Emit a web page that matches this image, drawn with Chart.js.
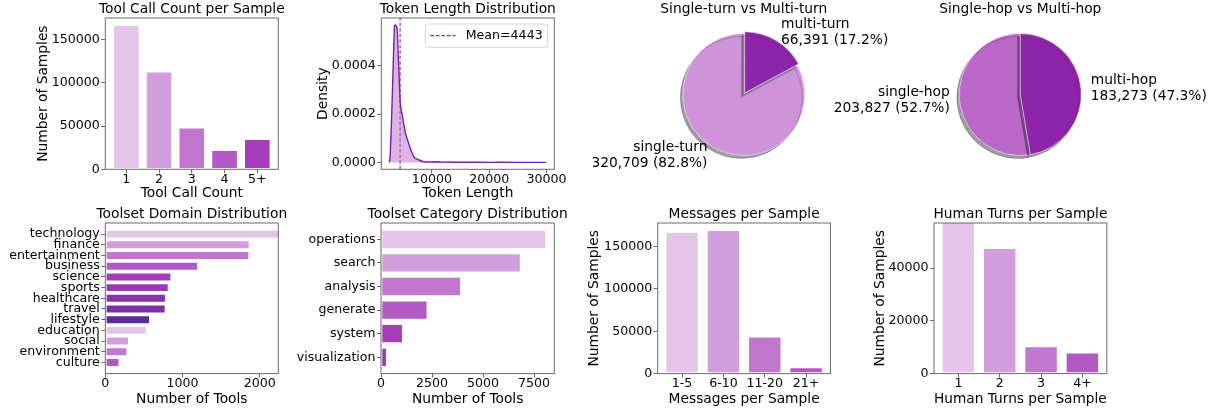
<!DOCTYPE html>
<html>
<head>
<meta charset="utf-8">
<title>Dataset statistics</title>
<script src="https://cdn.jsdelivr.net/npm/chart.js@4.4.1/dist/chart.umd.min.js"></script>
<style>
  html, body { margin: 0; padding: 0; background: #fff; }
  body { position: relative; width: 1222px; height: 414px; overflow: hidden; }
  canvas { position: absolute; }
</style>
</head>
<body>
<canvas id="toolCalls"></canvas>
<canvas id="tokenLength"></canvas>
<canvas id="turns"></canvas>
<canvas id="hops"></canvas>
<canvas id="domains"></canvas>
<canvas id="categories"></canvas>
<canvas id="messages"></canvas>
<canvas id="humanTurns"></canvas>
<script>
// ---- data ----
const toolCallLabels = ['1', '2', '3', '4', '5+'];
const toolCallCounts = [166600, 112700, 48000, 22100, 34900];

const tokenLengths = [2536, 2700, 2900, 3100, 3300, 3460, 3600, 3800, 3950, 4150, 4300, 4450, 4650, 4850,
  5100, 5350, 5650, 5900, 6200, 6500, 6950, 7650, 8500, 9000, 10000, 11000, 12000, 13000, 14000, 16000,
  18000, 20000, 22000, 25000, 28000, 30000];
const tokenDensity = [0, 0.00002, 0.00014, 0.00029, 0.00045, 0.000567, 0.00057, 0.000565, 0.000555, 0.00043,
  0.00034, 0.00025, 0.000215, 0.000193, 0.000158, 0.000122, 0.0001, 0.000082, 0.00006, 0.000041, 0.000019,
  0.000011, 0.000003, 0.000002, 0.0000015, 0.0000025, 0.0000012, 0.0000018, 0.0000008, 0.0000006,
  0.0000009, 0.0000004, 0.0000005, 0.0000003, 0.0000002, 0.0000001];
const tokenMean = 4443;

const turnLabels = ['single-turn', 'multi-turn'];
const turnCounts = [320709, 66391];

const hopLabels = ['single-hop', 'multi-hop'];
const hopCounts = [203827, 183273];

const domainLabels = ['technology', 'finance', 'entertainment', 'business', 'science', 'sports', 'healthcare',
  'travel', 'lifestyle', 'education', 'social', 'environment', 'culture'];
const domainCounts = [12427, 1866, 1862, 1200, 853, 818, 784, 779, 576, 533, 304, 282, 182];

const categoryLabels = ['operations', 'search', 'analysis', 'generate', 'system', 'visualization'];
const categoryCounts = [8090, 6842, 3914, 2274, 1066, 280];

const messageLabels = ['1-5', '6-10', '11-20', '21+'];
const messageCounts = [166800, 169300, 43600, 7400];

const humanTurnLabels = ['1', '2', '3', '4+'];
const humanTurnCounts = [320709, 47600, 10300, 7900];

// ---- styling ----
const FONT = 'DejaVu Sans';
const TICK_FONT = {family: FONT, size: 12.6, lineHeight: 1};
const LABEL_SIZE = 13.8;
const LABEL_LH = LABEL_SIZE * 1.2;
const LABEL_FONT = {family: FONT, size: LABEL_SIZE, weight: 'normal'};
const SPINE = '#6b6b6b';
const purples = ['#e1bee7', '#ce93d8', '#ba68c8', '#ab47bc', '#9c27b0', '#8e24aa', '#7b1fa2', '#6a1b9a', '#4a148c'];
const withAlpha = (hex, a) => hex + Math.round(a * 255).toString(16).padStart(2, '0');

Chart.defaults.font.family = FONT;
Chart.defaults.color = '#000';
Chart.defaults.animation = false;
Chart.defaults.events = [];
Chart.defaults.plugins.legend.display = false;
Chart.defaults.plugins.tooltip.enabled = false;

const ROW1 = {t: 18, b: 169.3};
const ROW2 = {t: 223, b: 373.6};

function place(id, x, y, w, h) {
  const c = document.getElementById(id);
  c.width = w; c.height = h;
  c.style.left = x + 'px'; c.style.top = y + 'px';
  c.style.width = w + 'px'; c.style.height = h + 'px';
  return c;
}

// axes box like matplotlib spines
const frame = {
  id: 'frame',
  afterDatasetsDraw(chart) {
    const {ctx, chartArea: a} = chart;
    ctx.save();
    ctx.strokeStyle = SPINE;
    ctx.lineWidth = 1;
    ctx.strokeRect(a.left, a.top, a.width, a.height);
    ctx.restore();
  }
};

// axes title centred over the plot area, allowed to be wider than it
const panelTitle = {
  id: 'panelTitle',
  afterDraw(chart, args, opts) {
    const {ctx, chartArea: a} = chart;
    ctx.save();
    ctx.font = LABEL_SIZE + 'px "' + FONT + '"';
    ctx.fillStyle = '#000';
    ctx.textAlign = 'center';
    ctx.textBaseline = 'middle';
    ctx.fillText(opts.text, (a.left + a.right) / 2, a.top - 8.7);
    ctx.restore();
  }
};

function indexAxis(labels, pos, lo, hi, reverse) {
  return {
    type: 'linear', position: pos, min: lo, max: hi, reverse: !!reverse, offset: false,
    grid: {offset: false, drawOnChartArea: false, tickLength: 4, tickColor: SPINE},
    border: {display: false},
    afterBuildTicks: s => {
      s.ticks = labels.map((l, i) => ({value: i}));
    },
    ticks: {
      autoSkip: false, maxRotation: 0, font: TICK_FONT,
      padding: pos === 'bottom' ? 0 : 1.5, callback: v => labels[v]
    }
  };
}

// ticks every `step` inside [lo, hi], like matplotlib's locator
function valueAxis(pos, lo, hi, step, fmt) {
  return {
    type: 'linear', position: pos, min: lo, max: hi,
    grid: {drawOnChartArea: false, tickLength: 4, tickColor: SPINE},
    border: {display: false},
    afterBuildTicks: s => {
      const ticks = [];
      for (let k = Math.ceil(lo / step - 1e-9); k * step <= hi + 1e-12; k++) {
        ticks.push({value: +(k * step).toPrecision(12)});
      }
      s.ticks = ticks;
    },
    ticks: {
      autoSkip: false, maxRotation: 0, font: TICK_FONT,
      padding: pos === 'bottom' ? 0 : 1.5, callback: fmt || (v => String(v))
    }
  };
}

function barPanel(o) {
  const p = o.plot;
  const cx = Math.round(o.canvasLeft);
  const cy = Math.round(p.t - 19);
  const cr = Math.round(p.r + 22);
  const cb = Math.round(p.b + 36);
  place(o.id, cx, cy, cr - cx, cb - cy);
  const n = o.labels.length;
  const margin = 0.05 * (n - 0.2);
  const idx = indexAxis(o.labels, o.horizontal ? 'left' : 'bottom', -0.4 - margin, n - 0.6 + margin, o.horizontal);
  const val = valueAxis(o.horizontal ? 'bottom' : 'left', 0, o.limit, o.step);
  const xAxis = o.horizontal ? val : idx;
  const yAxis = o.horizontal ? idx : val;
  yAxis.afterFit = s => { s.width = p.l - cx; };
  xAxis.afterFit = s => { s.height = cb - p.b; };
  xAxis.title = {display: true, text: o.xTitle, font: LABEL_FONT,
    padding: {top: 0, bottom: cb - p.b - o.xTitleOffset - LABEL_LH / 2}};
  if (o.yTitle) {
    yAxis.title = {display: true, text: o.yTitle, font: LABEL_FONT,
      padding: {top: o.yTitleX - cx - LABEL_LH / 2, bottom: 0}};
  }
  return new Chart(document.getElementById(o.id), {
    type: 'bar',
    data: {
      datasets: [{
        data: o.values.map((v, i) => o.horizontal ? {x: v, y: i} : {x: i, y: v}),
        backgroundColor: o.values.map((v, i) => withAlpha(purples[i % purples.length], 0.9)),
        borderColor: '#ffffff',
        borderWidth: 0.8,
        borderSkipped: false,
        barPercentage: 0.8,
        categoryPercentage: 1
      }]
    },
    options: {
      indexAxis: o.horizontal ? 'y' : 'x',
      responsive: false,
      layout: {padding: {left: 0, top: p.t - cy, bottom: 0, right: cr - p.r}},
      scales: {x: xAxis, y: yAxis},
      plugins: {panelTitle: {text: o.title}}
    },
    plugins: [frame, panelTitle]
  });
}

// legend box drawn inside the axes (upper right), like matplotlib
const meanLegend = {
  id: 'meanLegend',
  afterDatasetsDraw(chart) {
    const ds = chart.data.datasets[1];
    const {ctx, chartArea: a} = chart;
    const fs = 12.6;
    ctx.save();
    ctx.font = fs + 'px "' + FONT + '"';
    const tw = ctx.measureText(ds.label).width;
    const w = fs * 3.6 + tw, h = 23.3;
    const x = a.right - 6.6 - w, y = a.top + 6;
    ctx.beginPath();
    ctx.roundRect(x, y, w, h, 3);
    ctx.fillStyle = 'rgba(255,255,255,0.8)';
    ctx.fill();
    ctx.strokeStyle = '#d4d4d4';
    ctx.lineWidth = 1;
    ctx.stroke();
    ctx.beginPath();
    ctx.setLineDash(ds.borderDash);
    ctx.strokeStyle = ds.borderColor;
    ctx.lineWidth = ds.borderWidth;
    ctx.moveTo(x + fs * 0.4, y + h / 2);
    ctx.lineTo(x + fs * 2.4, y + h / 2);
    ctx.stroke();
    ctx.setLineDash([]);
    ctx.fillStyle = '#000';
    ctx.textBaseline = 'middle';
    ctx.fillText(ds.label, x + fs * 3.2, y + h / 2);
    ctx.restore();
  }
};

function tokenPanel() {
  const p = {l: 381.3, t: ROW1.t, r: 554.3, b: ROW1.b};
  const yTitleX = 323.5;
  const cx = Math.round(yTitleX - LABEL_LH / 2 - 0.5);
  const cy = Math.round(p.t - 19);
  const cr = Math.round(p.r + 22);
  const cb = Math.round(p.b + 36);
  place('tokenLength', cx, cy, cr - cx, cb - cy);
  const span = tokenLengths[tokenLengths.length - 1] - tokenLengths[0];
  const xMin = tokenLengths[0] - 0.05 * span;
  const xMax = tokenLengths[tokenLengths.length - 1] + 0.05 * span;
  const peak = Math.max(...tokenDensity);
  const yMin = -0.05 * peak, yMax = 1.05 * peak;
  const xAxis = valueAxis('bottom', xMin, xMax, 10000);
  const yAxis = valueAxis('left', yMin, yMax, 0.0002, v => v.toFixed(4));
  yAxis.afterFit = s => { s.width = p.l - cx; };
  xAxis.afterFit = s => { s.height = cb - p.b; };
  xAxis.title = {display: true, text: 'Token Length', font: LABEL_FONT,
    padding: {top: 0, bottom: cb - p.b - 24.5 - LABEL_LH / 2}};
  yAxis.title = {display: true, text: 'Density', font: LABEL_FONT,
    padding: {top: yTitleX - cx - LABEL_LH / 2, bottom: 0}};
  return new Chart(document.getElementById('tokenLength'), {
    type: 'line',
    data: {
      datasets: [{
        label: 'density',
        data: tokenLengths.map((x, i) => ({x, y: tokenDensity[i]})),
        borderColor: '#7b1fa2',
        borderWidth: 1.4,
        backgroundColor: 'rgba(186,104,200,0.5)',
        fill: 'origin',
        pointRadius: 0,
        tension: 0
      }, {
        label: 'Mean=' + tokenMean,
        data: [{x: tokenMean, y: yMin}, {x: tokenMean, y: yMax}],
        borderColor: '#8e24aa',
        borderWidth: 1.1,
        borderDash: [3.5, 2],
        pointRadius: 0,
        fill: false
      }]
    },
    options: {
      responsive: false,
      layout: {padding: {left: 0, top: p.t - cy, bottom: 0, right: cr - p.r}},
      scales: {x: xAxis, y: yAxis},
      plugins: {panelTitle: {text: 'Token Length Distribution'}}
    },
    plugins: [frame, meanLegend, panelTitle]
  });
}

// pie shadow + outside labels
const pieDecor = {
  id: 'pieDecor',
  beforeDatasetsDraw(chart) {
    const c = chart.ctx;
    c.save();
    c.shadowColor = 'rgba(45,30,50,0.45)';
    c.shadowOffsetX = -2.5;
    c.shadowOffsetY = 3;
    c.shadowBlur = 0;
  },
  afterDatasetsDraw(chart) {
    const ctx = chart.ctx;
    ctx.restore();
    const ds = chart.data.datasets[0];
    const labels = chart.data.labels;
    const total = ds.data.reduce((a, b) => a + b, 0);
    ctx.save();
    ctx.font = LABEL_SIZE + 'px "' + FONT + '"';
    ctx.fillStyle = '#000';
    ctx.textBaseline = 'middle';
    chart.getDatasetMeta(0).data.forEach((arc, i) => {
      const {x, y, startAngle, endAngle, outerRadius} =
        arc.getProps(['x', 'y', 'startAngle', 'endAngle', 'outerRadius'], true);
      const mid = (startAngle + endAngle) / 2;
      const shift = (ds.offset ? ds.offset[i] : 0) / 4;
      const d = outerRadius * 1.16 + shift;
      const lx = x + Math.cos(mid) * d, ly = y + Math.sin(mid) * d;
      const v = ds.data[i];
      ctx.textAlign = Math.cos(mid) >= 0 ? 'left' : 'right';
      ctx.fillText(labels[i], lx, ly - LABEL_LH / 2);
      ctx.fillText(v.toLocaleString('en-US') + ' (' + (100 * v / total).toFixed(1) + '%)', lx, ly + LABEL_LH / 2);
    });
    ctx.restore();
  }
};

function piePanel(o) {
  const hw = o.halfWidth;
  const x0 = Math.floor(o.cx - hw), w = 2 * hw, h = 200;
  place(o.id, x0, 0, w, h);
  const titleTop = 9.8 - LABEL_LH / 2;
  const areaTop = titleTop + LABEL_LH;
  const padBottom = h - (2 * o.cy - areaTop);
  const padLeft = 2 * (o.cx - x0) - w;
  const total = o.values.reduce((a, b) => a + b, 0);
  return new Chart(document.getElementById(o.id), {
    type: 'pie',
    data: {
      labels: o.labels,
      datasets: [{
        data: o.values,
        backgroundColor: o.colors,
        borderColor: '#ffffff',
        borderWidth: 0.5,
        offset: o.offset,
        radius: o.radius
      }]
    },
    options: {
      responsive: false,
      radius: o.radius,
      rotation: 360 * o.values[1] / total,
      layout: {padding: {left: Math.max(padLeft, 0), right: Math.max(-padLeft, 0), top: 0, bottom: padBottom}},
      plugins: {
        title: {display: true, text: o.title, color: '#000', font: LABEL_FONT, padding: {top: titleTop, bottom: 0}}
      }
    },
    plugins: [pieDecor]
  });
}

barPanel({
  id: 'toolCalls', labels: toolCallLabels, values: toolCallCounts,
  plot: {l: 105.3, t: ROW1.t, r: 278.3, b: ROW1.b},
  canvasLeft: 43.3 - LABEL_LH / 2 - 0.5, yTitleX: 43.3, xTitleOffset: 24.5,
  limit: Math.max(...toolCallCounts) * 1.05, step: 50000,
  title: 'Tool Call Count per Sample', xTitle: 'Tool Call Count', yTitle: 'Number of Samples'
});

tokenPanel();

piePanel({
  id: 'turns', labels: turnLabels, values: turnCounts, colors: ['#ce93d8', '#8e24aa'],
  offset: [0, 7], cx: 743.8, cy: 94.5, radius: 61, halfWidth: 150,
  title: 'Single-turn vs Multi-turn'
});

piePanel({
  id: 'hops', labels: hopLabels, values: hopCounts, colors: ['#ba68c8', '#8e24aa'],
  offset: [0, 0], cx: 1020.3, cy: 94.5, radius: 61, halfWidth: 200,
  title: 'Single-hop vs Multi-hop'
});

barPanel({
  id: 'domains', labels: domainLabels, values: domainCounts, horizontal: true,
  plot: {l: 105.3, t: ROW2.t, r: 278.3, b: ROW2.b},
  canvasLeft: 0, xTitleOffset: 25.8,
  limit: [...domainCounts].sort((a, b) => b - a)[1] * 1.2, step: 1000,
  title: 'Toolset Domain Distribution', xTitle: 'Number of Tools'
});

barPanel({
  id: 'categories', labels: categoryLabels, values: categoryCounts, horizontal: true,
  plot: {l: 381, t: ROW2.t, r: 554.3, b: ROW2.b},
  canvasLeft: 291, xTitleOffset: 25.8,
  limit: Math.max(...categoryCounts) * 1.05, step: 2500,
  title: 'Toolset Category Distribution', xTitle: 'Number of Tools'
});

barPanel({
  id: 'messages', labels: messageLabels, values: messageCounts,
  plot: {l: 657.7, t: ROW2.t, r: 830.5, b: ROW2.b},
  canvasLeft: 594 - LABEL_LH / 2 - 0.5, yTitleX: 594, xTitleOffset: 25.8,
  limit: Math.max(...messageCounts) * 1.05, step: 50000,
  title: 'Messages per Sample', xTitle: 'Messages per Sample', yTitle: 'Number of Samples'
});

barPanel({
  id: 'humanTurns', labels: humanTurnLabels, values: humanTurnCounts,
  plot: {l: 934, t: ROW2.t, r: 1106.8, b: ROW2.b},
  canvasLeft: 880 - LABEL_LH / 2 - 0.5, yTitleX: 880, xTitleOffset: 25.8,
  limit: [...humanTurnCounts].sort((a, b) => b - a)[1] * 1.2, step: 20000,
  title: 'Human Turns per Sample', xTitle: 'Human Turns per Sample', yTitle: 'Number of Samples'
});
</script>
</body>
</html>
